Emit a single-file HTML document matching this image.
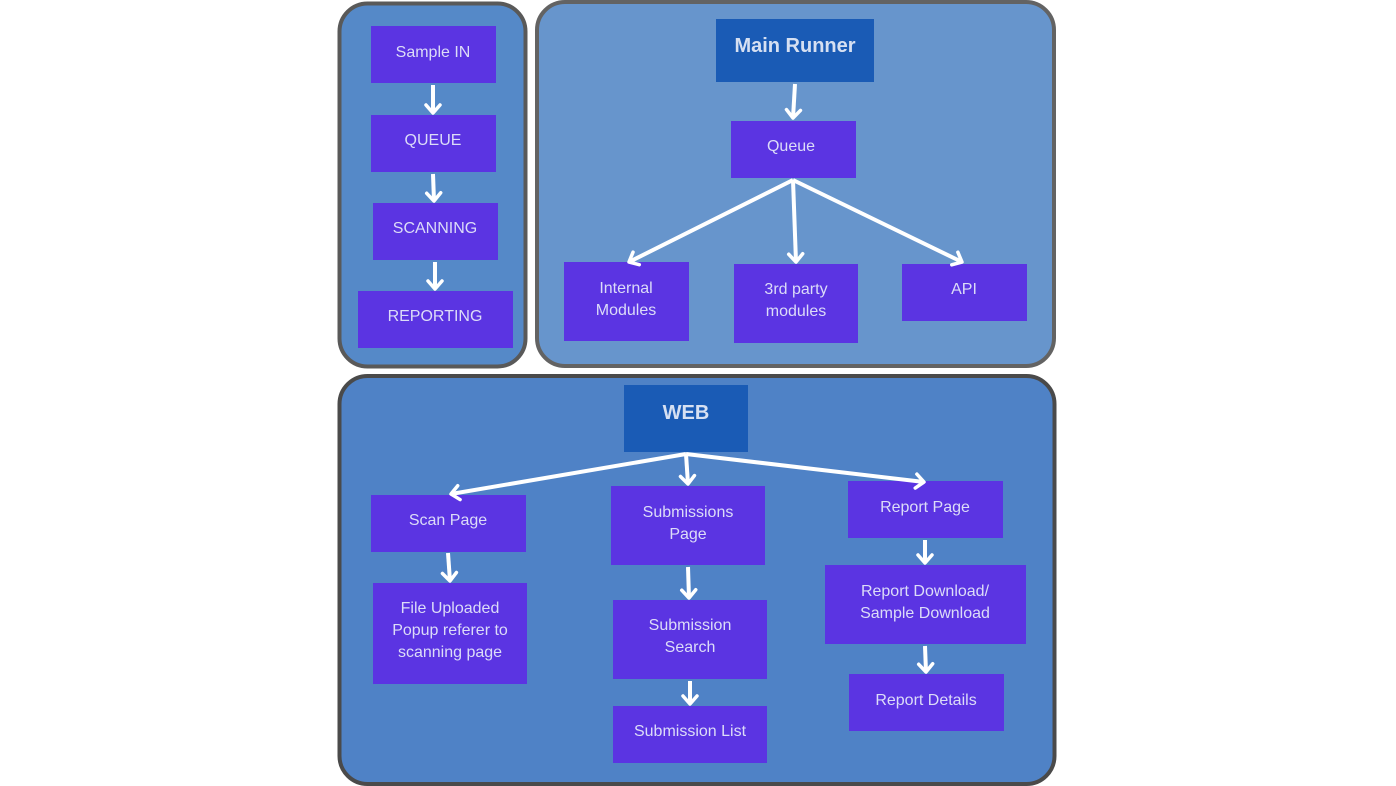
<!DOCTYPE html>
<html><head><meta charset="utf-8"><style>
html,body{margin:0;padding:0;background:#fff;}
svg{display:block;}
text{font-family:"Liberation Sans",sans-serif;fill:#dcdcf8;font-size:16px;text-anchor:middle;}
.t{font-weight:bold;font-size:20px;fill:#d6e0f2;}
.b{fill:#5b34e2;}
.h{fill:#1a5bb5;}
.a{stroke:#fff;stroke-width:4;fill:none;marker-end:url(#m);}
</style></head><body>
<svg width="1396" height="786" viewBox="0 0 1396 786">
<defs>
<marker id="m" markerUnits="userSpaceOnUse" markerWidth="20" markerHeight="20" refX="0" refY="0" viewBox="-10 -10 20 20" orient="auto" overflow="visible">
<path d="M-8,-7 L0,0 L-8,7" stroke="#fff" stroke-width="3.5" fill="none" stroke-linecap="round" stroke-linejoin="round"/>
</marker>
</defs>
<rect x="339.5" y="3.5" width="186" height="363" rx="28" fill="#5589c8" stroke="#595959" stroke-width="4"/>
<rect x="537" y="2" width="517" height="364" rx="28" fill="#6795cc" stroke="#636363" stroke-width="4"/>
<rect x="339.5" y="376" width="715" height="408" rx="28" fill="#4f82c6" stroke="#4a4a4a" stroke-width="4"/>

<rect class="b" x="371" y="26" width="125" height="57"/><text x="433" y="57">Sample IN</text>
<rect class="b" x="371" y="115" width="125" height="57"/><text x="433" y="145">QUEUE</text>
<rect class="b" x="373" y="203" width="125" height="57"/><text x="435" y="233">SCANNING</text>
<rect class="b" x="358" y="291" width="155" height="57"/><text x="435" y="321">REPORTING</text>
<path class="a" d="M433,85 L433,113"/>
<path class="a" d="M433,174 L434,201"/>
<path class="a" d="M435,262 L435,289"/>

<rect class="h" x="716" y="19" width="158" height="63"/><text class="t" x="795" y="52">Main Runner</text>
<rect class="b" x="731" y="121" width="125" height="57"/><text x="791" y="151">Queue</text>
<rect class="b" x="564" y="262" width="125" height="79"/><text x="626" y="293">Internal</text><text x="626" y="315">Modules</text>
<rect class="b" x="734" y="264" width="124" height="79"/><text x="796" y="294">3rd party</text><text x="796" y="316">modules</text>
<rect class="b" x="902" y="264" width="125" height="57"/><text x="964" y="294">API</text>
<path class="a" d="M795,84 L793,118"/>
<path class="a" d="M793,180 L629,262"/>
<path class="a" d="M793,180 L796,262"/>
<path class="a" d="M793,180 L962,262"/>

<rect class="h" x="624" y="385" width="124" height="67" fill="#1559b4"/><text class="t" x="686" y="419">WEB</text>
<rect class="b" x="371" y="495" width="155" height="57"/><text x="448" y="525">Scan Page</text>
<rect class="b" x="611" y="486" width="154" height="79"/><text x="688" y="517">Submissions</text><text x="688" y="539">Page</text>
<rect class="b" x="848" y="481" width="155" height="57"/><text x="925" y="512">Report Page</text>
<rect class="b" x="373" y="583" width="154" height="101"/><text x="450" y="613">File Uploaded</text><text x="450" y="635">Popup referer to</text><text x="450" y="657">scanning page</text>
<rect class="b" x="613" y="600" width="154" height="79"/><text x="690" y="630">Submission</text><text x="690" y="652">Search</text>
<rect class="b" x="613" y="706" width="154" height="57"/><text x="690" y="736">Submission List</text>
<rect class="b" x="825" y="565" width="201" height="79"/><text x="925" y="596">Report Download/</text><text x="925" y="618">Sample Download</text>
<rect class="b" x="849" y="674" width="155" height="57"/><text x="926" y="705">Report Details</text>
<path class="a" d="M686,454 L451,494"/>
<path class="a" d="M686,454 L688,484"/>
<path class="a" d="M686,454 L924,482"/>
<path class="a" d="M448,553 L450,581"/>
<path class="a" d="M688,567 L689,598"/>
<path class="a" d="M690,681 L690,704"/>
<path class="a" d="M925,540 L925,563"/>
<path class="a" d="M925,646 L926,672"/>
</svg>
</body></html>
